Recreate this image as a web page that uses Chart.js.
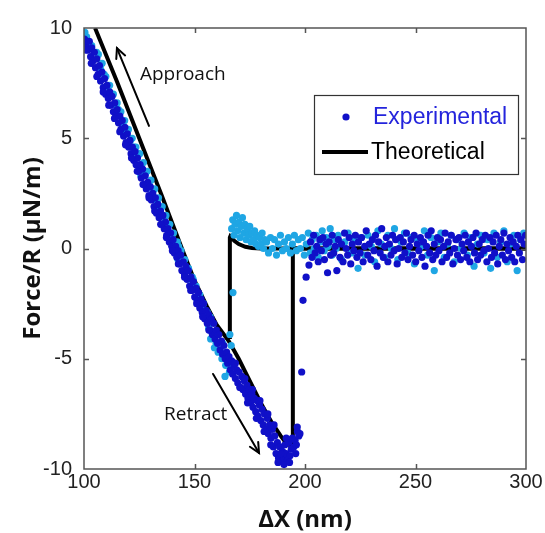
<!DOCTYPE html>
<html>
<head>
<meta charset="utf-8">
<script src="https://cdn.jsdelivr.net/npm/chart.js@4/dist/chart.umd.min.js"></script>
<style>
html,body{margin:0;padding:0;background:#fff;}
#wrap{width:545px;height:533px;}
</style>
</head>
<body>
<div id="wrap"><canvas id="c" width="545" height="533"></canvas></div>
<script>
// ---- Data ----
const xTicks = [100, 150, 200, 250, 300];
const yTicks = [-10, -5, 0, 5, 10];

// Experimental, retract (dark blue)
const retractX = [100.2,100.7,101.3,101.8,102.4,103.0,103.5,104.1,104.7,105.2,105.8,106.4,107.0,107.5,108.1,108.7,109.3,109.8,110.4,111.0,111.6,112.1,112.7,113.3,113.9,114.4,115.0,115.6,116.2,116.7,117.3,117.9,118.5,119.0,119.6,120.2,120.8,121.3,121.9,122.5,123.1,123.6,124.2,124.8,125.4,125.9,126.5,127.1,127.7,128.2,128.8,129.4,130.0,130.5,131.1,131.7,132.3,132.8,133.4,134.0,134.6,135.1,135.7,136.3,136.9,137.4,138.0,138.6,139.2,139.7,140.3,140.9,141.5,142.0,142.6,143.2,143.8,144.3,144.9,145.5,146.1,146.6,147.2,147.8,148.4,148.9,149.5,150.1,150.7,151.2,151.8,152.4,153.0,153.5,154.1,154.7,155.3,155.8,156.4,157.0,157.6,158.1,158.7,159.3,159.9,160.4,161.0,161.6,162.2,162.7,163.3,163.9,164.5,165.0,165.6,166.2,166.8,167.3,167.9,168.5,169.1,169.6,170.2,170.8,171.4,171.9,172.5,173.1,173.7,174.2,174.8,175.4,176.0,176.5,177.1,177.7,178.3,178.8,179.4,180.0,180.6,181.1,181.7,182.3,182.9,183.4,184.0,184.6,185.2,185.7,186.3,186.9,187.5,188.0,188.6,189.2,189.8,190.3,190.9,191.5,192.1,192.6,193.2,193.8,194.3,194.9,195.5,196.1,196.6,197.2,197.7,198.5,199.1,200.5,201.8,
100.8,103.3,105.8,108.7,111.2,113.8,116.2,118.8,121.5,124.1,126.7,129.4,132.0,134.7,137.3,140.0,142.7,145.5,148.3,151.0,153.7,156.5,
168.5,170.5,172.8,174.0,176.2,178.0,179.6,181.5,183.2,184.5,186.0,187.8,189.0,190.5,191.5,193.0,195.8,196.5,
202.5,203.2,203.9,204.6,205.3,206.0,206.7,207.4,208.1,208.8,209.5,210.2,210.9,211.6,212.3,213.0,213.7,214.4,215.1,215.8,216.5,217.2,217.9,218.6,219.3,220.0,220.7,221.4,222.1,222.8,223.5,224.2,224.9,225.6,226.3,227.0,227.7,228.4,229.1,229.8,230.5,231.2,231.9,232.6,233.3,234.0,234.7,235.4,236.1,236.8,237.5,238.2,238.9,239.6,240.3,241.0,241.7,242.4,243.1,243.8,244.5,245.2,245.9,246.6,247.3,248.0,248.7,249.4,250.1,250.8,251.5,252.2,252.9,253.6,254.3,255.0,255.7,256.4,257.1,257.8,258.5,259.2,259.9,260.6,261.3,262.0,262.7,263.4,264.1,264.8,265.5,266.2,266.9,267.6,268.3,269.0,269.7,270.4,271.1,271.8,272.5,273.2,273.9,274.6,275.3,276.0,276.7,277.4,278.1,278.8,279.5,280.2,280.9,281.6,282.3,283.0,283.7,284.4,285.1,285.8,286.5,287.2,287.9,288.6,289.3,290.0,290.7,291.4,292.1,292.8,293.5,294.2,294.9,295.6,296.3,297.0,297.7,298.4,299.1,299.8];
const retractY = [9.5,9.2,9.4,9.0,9.4,8.7,9.1,8.5,8.9,8.2,8.6,7.9,8.3,7.6,8.0,7.3,7.7,7.0,7.4,6.8,7.1,6.5,6.9,6.2,6.6,6.0,6.3,5.7,6.0,5.4,5.8,5.1,5.5,4.8,5.2,4.6,4.9,4.3,4.6,4.0,4.4,3.8,4.1,3.5,3.8,3.2,3.6,2.9,3.3,2.7,3.0,2.4,2.8,2.2,2.5,1.9,2.3,1.6,2.0,1.4,1.7,1.1,1.5,0.9,1.2,0.6,0.9,0.3,0.7,0.1,0.4,-0.2,0.1,-0.4,-0.1,-0.7,-0.3,-1.0,-0.6,-1.2,-0.8,-1.4,-1.0,-1.7,-1.3,-1.9,-1.5,-2.2,-1.8,-2.4,-2.0,-2.7,-2.3,-2.9,-2.5,-3.2,-2.8,-3.4,-3.0,-3.7,-3.2,-3.9,-3.4,-4.1,-3.7,-4.3,-3.9,-4.6,-4.2,-4.8,-4.4,-5.0,-4.7,-5.2,-4.9,-5.5,-5.1,-5.7,-5.3,-5.9,-5.5,-6.1,-5.6,-6.3,-5.8,-6.4,-6.0,-6.6,-6.2,-6.8,-6.4,-7.0,-6.6,-7.2,-6.8,-7.4,-6.9,-7.6,-7.1,-7.8,-7.3,-8.0,-7.5,-8.2,-7.7,-8.4,-8.0,-8.6,-8.2,-9.0,-8.5,-9.3,-8.8,-9.5,-9.0,-9.6,-9.2,-9.5,-8.9,-9.3,-9.6,-8.8,-9.4,-9.1,-8.6,-9.0,-8.7,-8.9,-8.3,-8.5,-8.4,-5.6,-2.35,-1.3,-0.75,
9.0,8.4,7.8,7.1,6.5,5.9,5.3,4.7,4.1,3.5,2.9,2.3,1.7,1.1,0.5,-0.1,-0.7,-1.3,-1.9,-2.5,-3.1,-3.7,
-5.2,-6.3,-5.9,-7.0,-6.4,-7.7,-6.9,-8.3,-7.5,-8.9,-8.0,-9.7,-9.3,-9.8,-8.6,-9.7,-9.3,-8.1,
0.3,-0.4,0.6,-0.2,0.1,-0.6,0.4,-0.1,0.5,-0.5,0.2,-1.1,0.3,-0.3,0.6,-0.2,0.1,-1.0,0.4,-0.4,0.2,-0.6,0.7,0.0,-0.3,0.5,-0.7,0.2,-0.1,0.6,-0.4,0.3,-0.2,0.5,-0.6,0.1,0.8,-0.3,0.2,-0.5,0.4,-0.1,0.6,-0.8,0.3,-0.2,0.9,-0.4,0.1,0.5,-0.6,0.2,-0.3,0.6,-0.1,0.4,-0.7,0.0,0.5,-0.4,0.3,-0.2,0.7,-0.5,0.1,0.4,-0.3,0.6,-0.6,0.2,-0.1,0.5,-0.4,0.3,-0.8,0.1,0.6,-0.2,0.8,-0.5,0.2,-0.3,0.5,-0.1,0.4,-0.6,0.1,0.7,-0.4,0.3,-0.2,0.6,-0.7,0.0,0.4,-0.3,0.5,-0.5,0.2,-0.1,0.6,-0.4,0.3,-0.6,0.1,0.5,-0.2,0.7,-0.5,0.2,-0.3,0.4,-0.1,0.6,-0.6,0.0,0.5,-0.4,0.3,-0.2,0.6,-0.7,0.1,0.4,-0.3,0.7,-0.5,0.2,-0.1,0.5,-0.4,0.3,-0.6,0.1,0.6,-0.2,0.4,-0.5,0.2,0.6];

// Experimental, approach (light blue)
const approachX = [100.4,101.2,102.0,105.7,106.5,107.4,108.2,109.1,109.9,110.8,111.6,112.5,113.3,114.2,115.0,115.9,116.7,117.6,118.4,119.3,120.1,121.0,121.8,122.7,123.5,124.4,125.2,126.1,126.9,127.8,128.6,129.5,130.3,131.2,132.0,132.9,133.7,134.6,135.4,136.3,137.1,138.0,138.8,139.7,140.5,141.4,142.2,143.1,143.9,144.8,145.6,146.5,147.3,148.2,149.0,149.9,150.7,151.6,152.4,153.3,154.1,155.0,155.8,156.7,157.5,158.4,156.4,157.3,158.1,159.0,159.8,160.7,161.5,162.4,163.2,164.1,164.9,165.8,163.8,166.0,166.6,167.4,
103.5,107.6,108.9,115.6,117.3,124.3,125.7,133.3,135.7,142.8,142.5,149.4,151.1,157.1,158.0,162.8,163.5,165.4,
166.8,167.3,167.9,168.4,169.0,169.5,170.1,170.6,171.2,171.7,172.3,172.8,173.4,173.9,174.5,175.0,175.6,176.1,176.7,177.2,177.8,178.3,178.9,179.4,180.0,180.6,181.2,181.8,
182.6,183.5,184.4,185.3,186.2,187.1,188.0,188.9,189.8,190.7,191.6,192.5,193.4,194.3,195.2,196.1,197.0,197.9,198.8,199.7,200.6,201.5,202.4,203.3,204.2,205.1,206.0,206.9,207.8,208.7,209.6,210.5,211.4,212.3,213.2,214.1,215.0,216.5,218.0,219.5,221.0,222.5,224.0,225.5,227.0,228.5,230.0,231.5,233.0,234.5,236.0,237.5,239.0,240.5,242.0,243.5,245.0,246.5,248.0,249.5,251.0,252.5,254.0,255.5,257.0,258.5,260.0,261.5,263.0,264.5,266.0,267.5,269.0,270.5,272.0,273.5,275.0,276.5,278.0,279.5,281.0,282.5,284.0,285.5,287.0,288.5,290.0,291.5,293.0,294.5,296.0,297.5,299.0];
const approachY = [9.8,9.6,9.3,8.9,8.8,8.3,8.4,7.9,7.8,7.4,7.4,6.9,7.0,6.5,6.6,6.1,6.2,5.7,5.8,5.3,5.4,4.9,5.0,4.6,4.6,4.2,4.3,3.8,3.9,3.4,3.5,3.0,3.1,2.6,2.7,2.2,2.3,1.8,1.9,1.4,1.5,1.0,1.1,0.6,0.7,0.2,0.3,-0.2,-0.1,-0.6,-0.5,-1.0,-0.9,-1.4,-1.3,-1.8,-1.7,-2.2,-2.1,-2.6,-2.5,-3.0,-2.9,-3.4,-3.3,-3.8,-3.6,-4.1,-4.0,-4.5,-4.3,-4.7,-4.6,-5.0,-4.8,-5.3,-5.1,-5.6,-5.8,-3.9,-4.4,-2.0,
9.2,8.1,7.3,6.3,5.3,4.3,3.3,2.2,1.1,0.1,-0.5,-1.4,-2.3,-3.1,-3.8,-4.3,-4.9,-5.3,
0.9,1.3,0.6,1.1,1.5,0.8,1.2,0.5,1.0,1.4,0.7,1.1,0.4,0.9,0.6,1.0,0.3,0.7,0.4,0.8,0.2,0.6,0.1,0.5,0.2,0.7,0.0,0.4,
0.3,-0.2,0.5,0.0,0.4,-0.3,0.2,0.6,-0.1,0.3,0.0,0.5,-0.2,0.2,0.6,-0.1,0.4,0.0,0.5,-0.3,0.2,0.7,-0.2,0.4,0.0,0.6,-0.4,0.3,0.8,-0.1,0.5,0.1,0.9,-0.3,0.4,0.0,0.6,-0.5,0.3,0.7,-0.2,0.4,-0.9,0.5,-0.3,0.6,0.1,-0.6,0.8,0.2,-0.4,0.6,0.0,0.9,-0.5,0.3,0.7,-0.2,0.5,-0.7,0.4,0.1,0.8,-0.3,0.5,-1.0,0.3,0.7,-0.4,0.2,0.6,-0.6,0.4,0.0,0.7,-0.3,0.5,-0.8,0.2,0.6,-0.2,0.4,-0.9,0.7,-0.4,0.3,0.8,-0.6,0.2,0.6,-1.0,0.4,0.7];

// Theoretical, retract branch
const theoRetX = [105,115,125,135,144.3,150,155.5,160,165.5,170,175,180,185,189,192,194.5,194.5,300];
const theoRetY = [10,7.55,5.0,2.45,0,-1.45,-2.6,-3.45,-4.2,-5.0,-6.0,-7.0,-7.9,-8.5,-8.9,-8.9,0,0];
// Theoretical, approach branch (snap-in)
const theoAppX = [300,180,176,173,170,168,166.2,166,166];
const theoAppY = [0,0,0.02,0.08,0.2,0.35,0.55,0.5,-4.1];

// Annotations (data coordinates)
const approachArrow = {x0:129.4, y0:5.56, x1:114.9, y1:9.09};
const retractArrow = {x0:158.4, y0:-5.69, x1:179.2, y1:-9.27};
const approachLabel = {text:'Approach', x:125.3, y:7.87};
const retractLabel = {text:'Retract', x:136.2, y:-7.55};

const legendLabels = ['Experimental', 'Theoretical'];

const DARK = '#1010c8';
const LIGHT = '#1fa6e4';

function pts(xs, ys){ return xs.map((x,i)=>({x:x, y:ys[i]})); }

function drawArrow(ctx, xs, ys, a){
  const x0 = xs.getPixelForValue(a.x0), y0 = ys.getPixelForValue(a.y0);
  const x1 = xs.getPixelForValue(a.x1), y1 = ys.getPixelForValue(a.y1);
  const ang = Math.atan2(y1-y0, x1-x0);
  const h = 11, s = 0.45;
  ctx.save();
  ctx.strokeStyle = '#000'; ctx.lineWidth = 2; ctx.lineCap='round';
  ctx.beginPath(); ctx.moveTo(x0,y0); ctx.lineTo(x1,y1); ctx.stroke();
  ctx.beginPath();
  ctx.moveTo(x1 - h*Math.cos(ang - s), y1 - h*Math.sin(ang - s));
  ctx.lineTo(x1, y1);
  ctx.lineTo(x1 - h*Math.cos(ang + s), y1 - h*Math.sin(ang + s));
  ctx.stroke();
  ctx.restore();
}

const framePlugin = {
  id: 'frame',
  afterDraw(chart){
    const {ctx, chartArea: a, scales: {x: xs, y: ys}} = chart;
    ctx.save();
    ctx.strokeStyle = '#555'; ctx.lineWidth = 1.5;
    ctx.strokeRect(a.left, a.top, a.right - a.left, a.bottom - a.top);
    const tl = 5;
    ctx.beginPath();
    xTicks.forEach(v => {
      if (v === xs.min || v === xs.max) return;
      const px = Math.round(xs.getPixelForValue(v)) + 0.5;
      ctx.moveTo(px, a.bottom); ctx.lineTo(px, a.bottom - tl);
      ctx.moveTo(px, a.top); ctx.lineTo(px, a.top + tl);
    });
    yTicks.forEach(v => {
      if (v === ys.min || v === ys.max) return;
      const py = Math.round(ys.getPixelForValue(v)) + 0.5;
      ctx.moveTo(a.left, py); ctx.lineTo(a.left + tl, py);
      ctx.moveTo(a.right, py); ctx.lineTo(a.right - tl, py);
    });
    ctx.stroke();

    // annotations
    drawArrow(ctx, xs, ys, approachArrow);
    drawArrow(ctx, xs, ys, retractArrow);
    ctx.fillStyle = '#111';
    ctx.font = '19px "Open Sans", sans-serif';
    ctx.textBaseline = 'middle'; ctx.textAlign = 'left';
    ctx.fillText(approachLabel.text, xs.getPixelForValue(approachLabel.x), ys.getPixelForValue(approachLabel.y));
    ctx.fillText(retractLabel.text, xs.getPixelForValue(retractLabel.x), ys.getPixelForValue(retractLabel.y));

    // legend box
    const L = a.left + 230, T = a.top + 67, W = 204, H = 79;
    ctx.fillStyle = '#fff';
    ctx.fillRect(L, T, W, H);
    ctx.strokeStyle = '#333'; ctx.lineWidth = 1.2;
    ctx.strokeRect(L + 0.5, T + 0.5, W, H);
    ctx.fillStyle = DARK;
    ctx.beginPath(); ctx.arc(L + 32, T + 22, 3.6, 0, Math.PI*2); ctx.fill();
    ctx.font = '23px "Liberation Sans", Arial, sans-serif';
    ctx.fillStyle = '#2424dc';
    ctx.fillText(legendLabels[0], L + 59, T + 23);
    ctx.strokeStyle = '#000'; ctx.lineWidth = 4;
    ctx.beginPath(); ctx.moveTo(L + 8, T + 57); ctx.lineTo(L + 54, T + 57); ctx.stroke();
    ctx.fillStyle = '#000';
    ctx.fillText(legendLabels[1], L + 57, T + 58);
    ctx.restore();
  }
};

new Chart(document.getElementById('c'), {
  type: 'scatter',
  data: {
    datasets: [
      {label: 'Experimental', data: pts(retractX, retractY), backgroundColor: DARK, borderWidth: 0, pointRadius: 3.6, pointHoverRadius: 3.6},
      {label: 'Experimental (approach)', data: pts(approachX, approachY), backgroundColor: LIGHT, borderWidth: 0, pointRadius: 3.6, pointHoverRadius: 3.6},
      {label: 'Theoretical', data: pts(theoAppX, theoAppY), showLine: true, borderColor: '#000', borderWidth: 4, pointRadius: 0, tension: 0, fill: false},
      {label: 'Theoretical (retract)', data: pts(theoRetX, theoRetY), showLine: true, borderColor: '#000', borderWidth: 4, pointRadius: 0, tension: 0, fill: false}
    ]
  },
  options: {
    responsive: false,
    animation: false,
    events: [],
    layout: {padding: {top: 28, right: 19, left: 0, bottom: 0}},
    plugins: {legend: {display: false}, tooltip: {enabled: false}},
    scales: {
      x: {
        type: 'linear', min: 100, max: 300,
        afterBuildTicks(s){ s.ticks = xTicks.map(v => ({value: v})); },
        afterFit(s){ s.height = 64; },
        grid: {display: false, drawTicks: false},
        border: {display: false},
        ticks: {padding: 1, color: '#222', font: {family: '"Liberation Sans", Arial, sans-serif', size: 20}},
        title: {display: true, text: 'ΔX (nm)', color: '#111', font: {family: '"Open Sans", sans-serif', size: 24, weight: 'bold', lineHeight: 1.1}, padding: {top: 0, bottom: 0}}
      },
      y: {
        type: 'linear', min: -10, max: 10,
        afterBuildTicks(s){ s.ticks = yTicks.map(v => ({value: v})); },
        afterFit(s){ s.width = 84; },
        grid: {display: false, drawTicks: false},
        border: {display: false},
        ticks: {padding: 12, color: '#222', font: {family: '"Liberation Sans", Arial, sans-serif', size: 20}},
        title: {display: true, text: 'Force/R (μN/m)', color: '#111', font: {family: '"Open Sans", sans-serif', size: 24, weight: 'bold', lineHeight: 1.1}, padding: {top: 20, bottom: 0}}
      }
    }
  },
  plugins: [framePlugin]
});
</script>
</body>
</html>
